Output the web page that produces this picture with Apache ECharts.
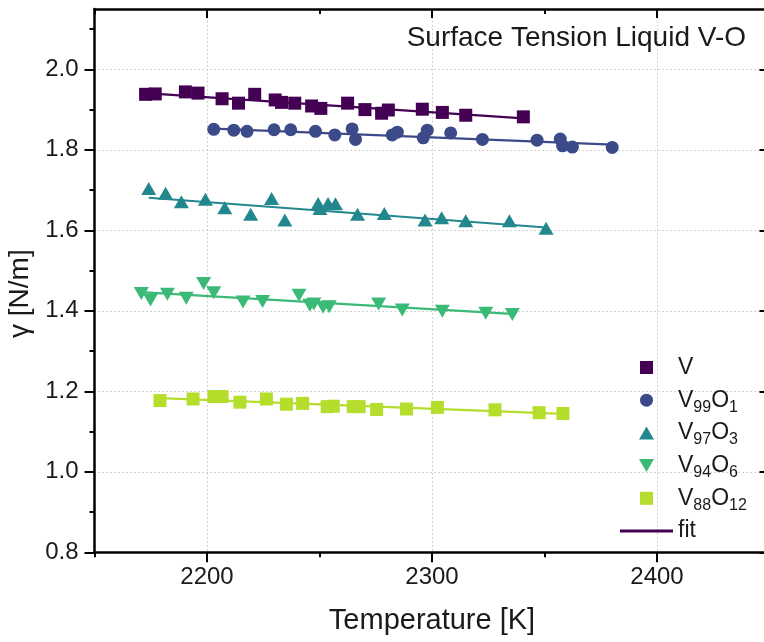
<!DOCTYPE html>
<html>
<head>
<meta charset="utf-8">
<script src="https://cdn.jsdelivr.net/npm/echarts@6/dist/echarts.min.js"></script>
<style>
  html, body { margin: 0; padding: 0; background: #ffffff; }
  #chart { width: 764px; height: 642px; }
</style>
</head>
<body>
<div id="chart"></div>
<script>
// Surface tension of liquid V and V–O melts versus temperature, with linear fits.

// Pure V
const tempV   = [2172.7, 2177.0, 2190.4, 2196.0, 2206.7, 2214.0, 2221.2, 2230.3, 2233.1, 2239.0,
                 2246.5, 2250.6, 2262.5, 2270.2, 2277.6, 2280.6, 2295.7, 2304.6, 2315.0, 2340.6];
const gammaV  = [1.938, 1.939, 1.944, 1.941, 1.927, 1.916, 1.938, 1.924, 1.918, 1.916,
                 1.909, 1.903, 1.916, 1.900, 1.891, 1.899, 1.901, 1.893, 1.886, 1.882];

// V99O1
const tempV99  = [2203.0, 2211.9, 2217.8, 2229.8, 2237.2, 2248.2, 2256.8, 2264.5, 2266.0, 2282.3,
                  2284.6, 2296.1, 2297.9, 2308.3, 2322.4, 2346.7, 2357.0, 2358.0, 2362.4, 2380.1];
const gammaV99 = [1.851, 1.849, 1.846, 1.850, 1.850, 1.846, 1.837, 1.852, 1.826, 1.837,
                  1.844, 1.830, 1.849, 1.842, 1.826, 1.824, 1.827, 1.810, 1.807, 1.806];

// V97O3
const tempV97  = [2174.1, 2181.6, 2188.6, 2199.3, 2207.9, 2219.4, 2228.7, 2234.6, 2249.4, 2250.2,
                  2253.8, 2257.1, 2266.9, 2278.8, 2296.9, 2304.3, 2315.0, 2334.4, 2350.7];
const gammaV97 = [1.704, 1.692, 1.671, 1.677, 1.656, 1.640, 1.679, 1.626, 1.667, 1.654,
                  1.667, 1.666, 1.640, 1.642, 1.626, 1.631, 1.624, 1.624, 1.605];

// V94O6
const tempV94  = [2170.8, 2174.9, 2182.4, 2190.8, 2198.5, 2203.0, 2216.0, 2224.7, 2240.9, 2245.7,
                  2247.5, 2251.6, 2254.3, 2276.3, 2286.8, 2304.6, 2323.9, 2335.7];
const gammaV94 = [1.443, 1.427, 1.441, 1.431, 1.468, 1.445, 1.422, 1.423, 1.439, 1.414,
                  1.417, 1.409, 1.410, 1.417, 1.402, 1.399, 1.394, 1.391];

// V88O12
const tempV88  = [2179.1, 2193.8, 2203.1, 2206.7, 2214.6, 2226.4, 2235.3, 2242.5, 2253.4, 2256.1,
                  2265.0, 2267.6, 2275.4, 2288.7, 2302.4, 2328.0, 2347.6, 2358.2];
const gammaV88 = [1.177, 1.181, 1.187, 1.187, 1.173, 1.181, 1.168, 1.170, 1.162, 1.163,
                  1.162, 1.162, 1.155, 1.156, 1.160, 1.154, 1.147, 1.145];

// Linear fit end points (temperature, surface tension)
const fitV_T   = [2172.7, 2340.6]; const fitV_G   = [1.941, 1.878];
const fitV99_T = [2203.0, 2380.1]; const fitV99_G = [1.853, 1.813];
const fitV97_T = [2174.1, 2350.7]; const fitV97_G = [1.681, 1.607];
const fitV94_T = [2172.4, 2337.3]; const fitV94_G = [1.446, 1.392];
const fitV88_T = [2179.1, 2358.2]; const fitV88_G = [1.183, 1.144];

// Axis ticks
const xTickLabels = [2200, 2300, 2400];
const yTickLabels = [0.8, 1.0, 1.2, 1.4, 1.6, 1.8, 2.0];

const FONT = '"Liberation Sans", Arial, sans-serif';
const INK = '#1a1a1a';

const colV   = '#440154';
const colV99 = '#3d4a8a';
const colV97 = '#23888e';
const colV94 = '#3aba76';
const colV88 = '#b5dd2b';

const zip = (xs, ys) => xs.map((x, i) => [x, ys[i]]);

// Marker shapes as paths so legend icons keep their proportions
const squareSym    = 'path://M0,0L12,0L12,12L0,12Z';
const upTriangle   = 'path://M7.5,0L15,13L0,13Z';
const downTriangle = 'path://M0,0L15,0L7.5,13Z';
const fitIcon      = 'path://M0,0L53,0L53,3L0,3Z';

function scatter(name, xs, ys, symbol, size, color) {
  return {
    type: 'scatter', name: name, data: zip(xs, ys),
    symbol: symbol, symbolSize: size,
    itemStyle: { color: color, opacity: 1 },
    xAxisIndex: 0, yAxisIndex: 0, z: 3
  };
}
function fitLine(name, xs, ys, color) {
  return {
    type: 'line', name: name, data: zip(xs, ys),
    symbol: 'none', showSymbol: false, silent: true,
    lineStyle: { color: color, width: 2.2 },
    itemStyle: { color: color },
    xAxisIndex: 0, yAxisIndex: 0, z: 4, animation: false
  };
}

const axisLineStyle = { color: '#000', width: 2.5 };
const tickStyle = { color: '#000', width: 2 };
const gridLineStyle = { color: '#c4c4c4', width: 1, type: [1.5, 2.5] };

const legendText = {
  'V': '{n|V}{s| }',
  'V99O1': '{n|V}{s|99}{n|O}{s|1}',
  'V97O3': '{n|V}{s|97}{n|O}{s|3}',
  'V94O6': '{n|V}{s|94}{n|O}{s|6}',
  'V88O12': '{n|V}{s|88}{n|O}{s|12}',
  'fit': '{n|fit}{s| }'
};

const chart = echarts.init(document.getElementById('chart'), null, { renderer: 'canvas' });

chart.setOption({
  animation: false,
  backgroundColor: '#ffffff',
  title: {
    text: 'Surface Tension Liquid V-O',
    right: 13, top: 19,
    textStyle: { fontFamily: FONT, fontSize: 28, fontWeight: 'normal', color: INK }
  },
  grid: { left: 94.5, right: -5.5, top: 9, bottom: 89.7, containLabel: false, outerBoundsMode: 'none' },
  legend: {
    orient: 'vertical', left: 620, top: 356, padding: 0,
    itemWidth: 53, itemHeight: 13, itemGap: 6.2,
    symbolKeepAspect: true,
    data: [
      { name: 'V', icon: squareSym },
      { name: 'V99O1', icon: 'circle' },
      { name: 'V97O3', icon: upTriangle },
      { name: 'V94O6', icon: downTriangle },
      { name: 'V88O12', icon: squareSym },
      { name: 'fit', icon: fitIcon }
    ],
    formatter: name => legendText[name],
    selectedMode: false,
    textStyle: {
      color: INK, fontFamily: FONT,
      rich: {
        n: { fontSize: 23, lineHeight: 30, fontFamily: FONT, color: INK },
        s: { fontSize: 16, lineHeight: 30, verticalAlign: 'bottom', fontFamily: FONT, color: INK }
      }
    }
  },
  xAxis: [
    {
      type: 'value', gridIndex: 0, position: 'bottom',
      min: 2150, max: 2450, interval: 100,
      axisLine: { show: true, onZero: false, lineStyle: axisLineStyle },
      axisTick: { show: true, inside: false, length: 5, lineStyle: tickStyle },
      minorTick: { show: true, splitNumber: 2, length: 10, lineStyle: tickStyle },
      axisLabel: {
        customValues: xTickLabels, fontFamily: FONT, fontSize: 24, color: INK, margin: 13,
        formatter: v => String(Math.round(v))
      },
      splitLine: { show: false },
      minorSplitLine: { show: true, lineStyle: gridLineStyle },
      name: 'Temperature [K]', nameLocation: 'middle', nameGap: 54,
      nameTextStyle: { fontFamily: FONT, fontSize: 29, color: INK }
    },
    {
      type: 'value', gridIndex: 0, position: 'top',
      min: 2150, max: 2450, interval: 100,
      axisLine: { show: true, onZero: false, lineStyle: axisLineStyle },
      axisTick: { show: true, inside: true, length: 5, lineStyle: tickStyle },
      minorTick: { show: true, splitNumber: 2, length: 9, lineStyle: tickStyle },
      axisLabel: { show: false },
      splitLine: { show: false },
      minorSplitLine: { show: false }
    }
  ],
  yAxis: [
    {
      type: 'value', gridIndex: 0, position: 'left',
      min: 0.8, max: 2.15, interval: 0.2,
      axisLine: { show: true, onZero: false, lineStyle: axisLineStyle },
      axisTick: { show: true, inside: false, length: 10, customValues: yTickLabels, lineStyle: tickStyle },
      minorTick: { show: true, splitNumber: 2, length: 5, lineStyle: tickStyle },
      axisLabel: {
        customValues: yTickLabels, fontFamily: FONT, fontSize: 24, color: INK, margin: 16,
        formatter: v => v.toFixed(1)
      },
      splitLine: { show: true, lineStyle: gridLineStyle },
      minorSplitLine: { show: false },
      name: 'γ [N/m]', nameLocation: 'middle', nameGap: 50,
      nameTextStyle: { fontFamily: FONT, fontSize: 28, color: INK, padding: [0, 26, 0, 0] }
    },
    {
      type: 'value', gridIndex: 0, position: 'right',
      min: 0.8, max: 2.15, interval: 0.2,
      axisLine: { show: true, onZero: false, lineStyle: axisLineStyle },
      axisTick: { show: true, inside: true, length: 10, customValues: yTickLabels, lineStyle: tickStyle },
      minorTick: { show: true, splitNumber: 2, length: 5, lineStyle: tickStyle },
      axisLabel: { show: false },
      splitLine: { show: false },
      minorSplitLine: { show: false }
    }
  ],
  series: [
    scatter('V', tempV, gammaV, squareSym, 13, colV),
    scatter('V99O1', tempV99, gammaV99, 'circle', 13, colV99),
    scatter('V97O3', tempV97, gammaV97, upTriangle, [15, 13], colV97),
    scatter('V94O6', tempV94, gammaV94, downTriangle, [15, 13], colV94),
    scatter('V88O12', tempV88, gammaV88, squareSym, 13, colV88),
    fitLine('fit', fitV_T, fitV_G, colV),
    fitLine('fit V99O1', fitV99_T, fitV99_G, colV99),
    fitLine('fit V97O3', fitV97_T, fitV97_G, colV97),
    fitLine('fit V94O6', fitV94_T, fitV94_G, colV94),
    fitLine('fit V88O12', fitV88_T, fitV88_G, colV88)
  ]
});
</script>
</body>
</html>
